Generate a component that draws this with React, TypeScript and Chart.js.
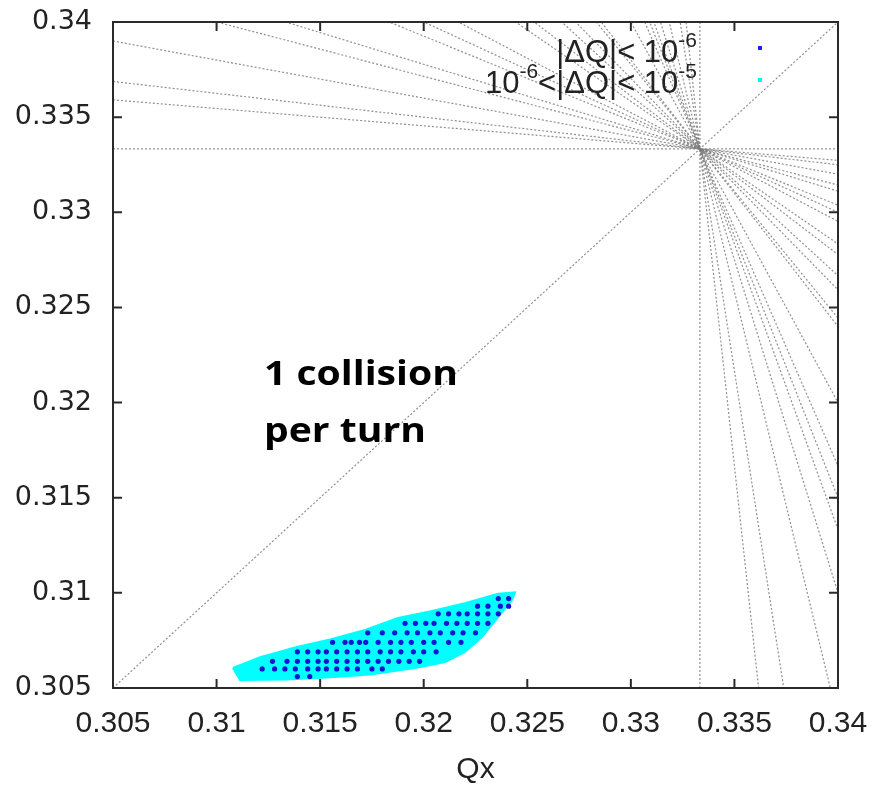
import React, { useEffect, useRef } from "react";
import { Chart, registerables } from "chart.js";

Chart.register(...registerables);

// ---------- data ----------
const AXIS_MIN = 0.305;
const AXIS_MAX = 0.34;
const xTickValues = [0.305, 0.31, 0.315, 0.32, 0.325, 0.33, 0.335, 0.34];
const xTickLabels = ["0.305", "0.31", "0.315", "0.32", "0.325", "0.33", "0.335", "0.34"];
const yTickValues = [0.305, 0.31, 0.315, 0.32, 0.325, 0.33, 0.335, 0.34];
const yTickLabels = ["0.305", "0.31", "0.315", "0.32", "0.325", "0.33", "0.335", "0.34"];
const xTitle = "Qx";

// third-order resonance crossing point (Qx = Qy = 1/3)
const resonanceQ = 1 / 3;
// slopes of the resonance lines through the crossing point
const resonanceSlopes = [
  0, -1 / 11, -1 / 8, -1 / 5, -2 / 7, -1 / 3, -4 / 9, -1 / 2, -4 / 7, -3 / 4, -5 / 6, -1,
  -10 / 9, -4 / 3, -7 / 5, -2, -5 / 2, -11 / 4, -3, -7 / 2, -9 / 2, -7, -10, 1,
];
const verticalResonanceQx = [1 / 3];

// tune footprint outline (10^-6 < |dQ| < 10^-5 region)
const footprintQx = [
  0.31079, 0.31113, 0.3134, 0.31548, 0.31741, 0.31958, 0.32103, 0.32199, 0.32281, 0.32359,
  0.32426, 0.32441, 0.32359, 0.32199, 0.3204, 0.31876, 0.31717, 0.31548, 0.31388, 0.3121,
];
const footprintQy = [
  0.30605, 0.30542, 0.30545, 0.30556, 0.30571, 0.30605, 0.30637, 0.30689, 0.30768, 0.30873,
  0.30963, 0.31003, 0.30995, 0.30945, 0.30905, 0.30868, 0.30805, 0.30755, 0.30715, 0.30662,
];

// stable particles |dQ| < 10^-6, listed row by row
const blueRowQy = [0.3097, 0.3093, 0.3089, 0.3084, 0.3079, 0.3074, 0.3069, 0.3064, 0.306, 0.3056];
const blueRowQx = [
  [0.3236, 0.3241],
  [0.3226, 0.3231, 0.3237, 0.3241],
  [0.3207, 0.3212, 0.3217, 0.3221, 0.3226, 0.3231, 0.3236],
  [0.3191, 0.3196, 0.3201, 0.3205, 0.3211, 0.3216, 0.3221, 0.3226, 0.3231],
  [0.3173, 0.318, 0.3186, 0.3192, 0.3197, 0.3203, 0.3208, 0.3214, 0.3219, 0.3225],
  [0.3156, 0.3162, 0.3165, 0.3169, 0.3172, 0.3178, 0.3184, 0.3189, 0.3194, 0.32, 0.3205, 0.3212, 0.3218],
  [0.3139, 0.3144, 0.3149, 0.3153, 0.3158, 0.3163, 0.3168, 0.3173, 0.3179, 0.3184, 0.3189, 0.3195, 0.32, 0.3206],
  [0.3127, 0.3134, 0.3139, 0.3144, 0.3149, 0.3153, 0.3158, 0.3163, 0.3168, 0.3173, 0.3178, 0.3183, 0.3188, 0.3193, 0.3198],
  [0.3122, 0.3128, 0.3133, 0.3138, 0.3144, 0.3149, 0.3153, 0.3158, 0.3163, 0.3168, 0.3175, 0.318],
  [0.3139, 0.3145],
];

const legendRow1 = [{ text: "|\u0394Q|< 10" }, { text: "-6", sup: true }];
const legendRow2 = [
  { text: "10" },
  { text: "-6", sup: true },
  { text: "<|\u0394Q|< 10" },
  { text: "-5", sup: true },
];
const legendColors = ["#2020e8", "#00ffff"];
const annotationLines = ["1 collision", "per turn"];

// ---------- styling ----------
const BLUE = "#1414d4";
const CYAN = "#00ffff";
const LINE_GRAY = "rgba(125,125,125,0.85)";
const TEXT = "#222";

function resonanceLine(slope: number) {
  return [
    { x: AXIS_MIN, y: resonanceQ + slope * (AXIS_MIN - resonanceQ) },
    { x: AXIS_MAX, y: resonanceQ + slope * (AXIS_MAX - resonanceQ) },
  ];
}

function drawParts(ctx: CanvasRenderingContext2D, parts: any[], right: number, baseline: number) {
  const mainFont = '31px "Liberation Sans", Arial, sans-serif';
  const supFont = '21px "Liberation Sans", Arial, sans-serif';
  let total = 0;
  const widths = parts.map((p) => {
    ctx.font = p.sup ? supFont : mainFont;
    const w = ctx.measureText(p.text).width;
    total += w;
    return w;
  });
  let x = right - total;
  ctx.textAlign = "left";
  ctx.textBaseline = "alphabetic";
  parts.forEach((p, i) => {
    ctx.font = p.sup ? supFont : mainFont;
    ctx.fillText(p.text, x, p.sup ? baseline - 15 : baseline);
    x += widths[i];
  });
}

const framePlugin = {
  id: "frame",
  afterDatasetsDraw(chart: any) {
    const { ctx, chartArea } = chart;
    const { left, right, top, bottom } = chartArea;
    const xs = chart.scales.x;
    const ys = chart.scales.y;
    ctx.save();
    ctx.strokeStyle = "#2a2a2a";
    ctx.lineWidth = 2;
    ctx.strokeRect(left, top, right - left, bottom - top);
    const len = 9;
    ctx.beginPath();
    xTickValues.forEach((v) => {
      const px = xs.getPixelForValue(v);
      ctx.moveTo(px, bottom);
      ctx.lineTo(px, bottom - len);
      ctx.moveTo(px, top);
      ctx.lineTo(px, top + len);
    });
    yTickValues.forEach((v) => {
      const py = ys.getPixelForValue(v);
      ctx.moveTo(left, py);
      ctx.lineTo(left + len, py);
      ctx.moveTo(right, py);
      ctx.lineTo(right - len, py);
    });
    ctx.stroke();
    ctx.restore();
  },
  afterDraw(chart: any) {
    const { ctx, chartArea } = chart;
    ctx.save();
    ctx.fillStyle = TEXT;
    // legend
    const legRight = chartArea.left + 584;
    drawParts(ctx, legendRow1, legRight, chartArea.top + 40);
    drawParts(ctx, legendRow2, legRight, chartArea.top + 71);
    const mx = chartArea.left + 647;
    [chartArea.top + 26, chartArea.top + 58].forEach((my, i) => {
      ctx.fillStyle = legendColors[i];
      ctx.fillRect(mx - 2, my - 2, 4, 4);
    });
    // annotation
    ctx.fillStyle = "#000";
    ctx.font = 'bold 34px "Open Sans", sans-serif';
    ctx.textAlign = "left";
    ctx.textBaseline = "alphabetic";
    annotationLines.forEach((t, i) => {
      ctx.save();
      ctx.translate(chartArea.left + 151, chartArea.top + 363 + i * 57);
      ctx.scale(1.15, 1);
      ctx.fillText(t, 0, 0);
      ctx.restore();
    });
    ctx.restore();
  },
};

export default function App() {
  const ref = useRef<HTMLCanvasElement | null>(null);

  useEffect(() => {
    if (!ref.current) return;
    const footprint = footprintQx.map((x, i) => ({ x, y: footprintQy[i] }));
    footprint.push({ x: footprintQx[0], y: footprintQy[0] });
    const blue: { x: number; y: number }[] = [];
    blueRowQx.forEach((row, r) => row.forEach((x) => blue.push({ x, y: blueRowQy[r] })));

    const lineStyle = {
      showLine: true,
      borderColor: LINE_GRAY,
      borderWidth: 1.2,
      borderDash: [2, 2],
      pointRadius: 0,
      fill: false,
    };

    const datasets: any[] = [
      {
        label: "|dQ| < 1e-6",
        data: blue,
        showLine: false,
        pointRadius: 2.6,
        pointBorderWidth: 0,
        backgroundColor: BLUE,
        borderColor: BLUE,
      },
      {
        label: "1e-6 < |dQ| < 1e-5",
        data: footprint,
        showLine: true,
        fill: "shape",
        backgroundColor: CYAN,
        borderColor: CYAN,
        borderWidth: 2,
        pointRadius: 0,
      },
      ...resonanceSlopes.map((s) => ({ ...lineStyle, data: resonanceLine(s) })),
      ...verticalResonanceQx.map((q) => ({
        ...lineStyle,
        data: [
          { x: q, y: AXIS_MIN },
          { x: q, y: AXIS_MAX },
        ],
      })),
    ];

    const chart = new Chart(ref.current, {
      type: "scatter",
      data: { datasets },
      plugins: [framePlugin],
      options: {
        animation: false,
        responsive: false,
        events: [],
        layout: { padding: { top: 22, right: 42, bottom: 0, left: 0 } },
        plugins: { legend: { display: false }, tooltip: { enabled: false } },
        scales: {
          x: {
            type: "linear",
            min: AXIS_MIN,
            max: AXIS_MAX,
            afterBuildTicks: (s: any) => {
              s.ticks = xTickValues.map((v) => ({ value: v }));
            },
            afterFit: (s: any) => {
              s.height = 97;
              s.paddingLeft = 0;
              s.paddingRight = 0;
            },
            grid: { display: false, drawTicks: false },
            border: { display: false },
            ticks: {
              autoSkip: false,
              maxRotation: 0,
              padding: 18,
              color: TEXT,
              font: { family: '"Liberation Sans", Arial, sans-serif', size: 30 },
              callback: (_v: any, i: number) => xTickLabels[i],
            },
            title: {
              display: true,
              text: xTitle,
              color: TEXT,
              font: { family: '"Liberation Sans", Arial, sans-serif', size: 30, lineHeight: 1.0 },
              padding: { top: 0, bottom: 0 },
            },
          },
          y: {
            type: "linear",
            min: AXIS_MIN,
            max: AXIS_MAX,
            afterBuildTicks: (s: any) => {
              s.ticks = yTickValues.map((v) => ({ value: v }));
            },
            afterFit: (s: any) => {
              s.width = 113;
              s.paddingTop = 0;
              s.paddingBottom = 0;
            },
            grid: { display: false, drawTicks: false },
            border: { display: false },
            ticks: {
              autoSkip: false,
              padding: 21,
              color: TEXT,
              font: { family: '"DejaVu Sans", sans-serif', size: 27 },
              callback: (_v: any, i: number) => yTickLabels[i],
            },
          },
        },
      },
    } as any);
    return () => chart.destroy();
  }, []);

  return (
    <div style={{ position: "absolute", left: 0, top: 0, width: 880, height: 785, background: "#fff" }}>
      <canvas ref={ref} width={880} height={785} style={{ display: "block" }} />
    </div>
  );
}
